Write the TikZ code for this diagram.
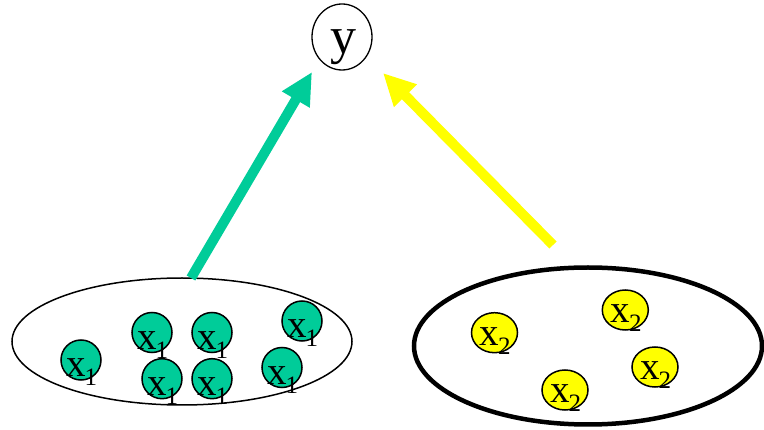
\documentclass[tikz,border=0pt]{standalone}
\usepackage{fontspec}
\setmainfont{Liberation Serif}
\usetikzlibrary{arrows.meta,shapes.geometric}
\definecolor{tgreen}{HTML}{00CC99}
\definecolor{tyellow}{HTML}{FFFF00}
\tikzset{
  gball/.style={circle,draw=black,line width=1.5pt,fill=tgreen,minimum size=40pt,inner sep=0pt},
  yball/.style={ellipse,draw=black,line width=1.5pt,fill=tyellow,minimum width=46pt,minimum height=40pt,inner sep=0pt},
  lbl/.style={anchor=base west,inner sep=0pt},
  bigarrow/.style={line width=10pt,-{Triangle[length=32pt,width=30pt]}},
}
\newcommand{\xsub}[1]{{\fontsize{39}{39}\selectfont x\kern-1pt\raisebox{-9pt}{\fontsize{25}{25}\selectfont #1}}}
\begin{document}
\begin{tikzpicture}[x=1pt,y=-1pt]
\useasboundingbox (0,0) rectangle (764,430);
% target node
\node[ellipse,draw=black,line width=1.3pt,minimum width=60pt,minimum height=66pt,inner sep=0pt] (y) at (342,37) {};
\node[anchor=base,inner sep=0pt] (ytext) at (343,54) {\fontsize{52}{52}\selectfont y};
% groups
\node[ellipse,draw=black,line width=1.5pt,minimum width=340pt,minimum height=127pt,inner sep=0pt] (lell) at (182,341.5) {};
\node[ellipse,draw=black,line width=4.5pt,minimum width=348pt,minimum height=157pt,inner sep=0pt] (rell) at (588,346) {};
% green balls
\foreach \n/\cx/\cy in {g1/81/360, g2/152/332.5, g3/212/332.5, g4/302/321, g5/162/378.7, g6/212/378.7, g7/282/367.5}{
  \node[gball] (\n) at (\cx,\cy) {};
  \node[lbl] (\n t) at ([xshift=-15pt,yshift=-17pt]\n.center) {\xsub{1}};
}
% yellow balls
\foreach \n/\cx/\cy in {b1/494.5/332.7, b2/625.3/310, b3/655/367, b4/565/390}{
  \node[yball] (\n) at (\cx,\cy) {};
  \node[lbl] (\n t) at ([xshift=-15pt,yshift=-13pt]\n.center) {\xsub{2}};
}
% arrows
\coordinate (gtail) at (191,278);
\coordinate (gtip) at (312,72);
\coordinate (ytail) at (553,245);
\coordinate (ytip) at (383,73);
\draw[bigarrow,tgreen] (gtail) -- (gtip);
\draw[bigarrow,tyellow] (ytail) -- (ytip);
\end{tikzpicture}
\end{document}
